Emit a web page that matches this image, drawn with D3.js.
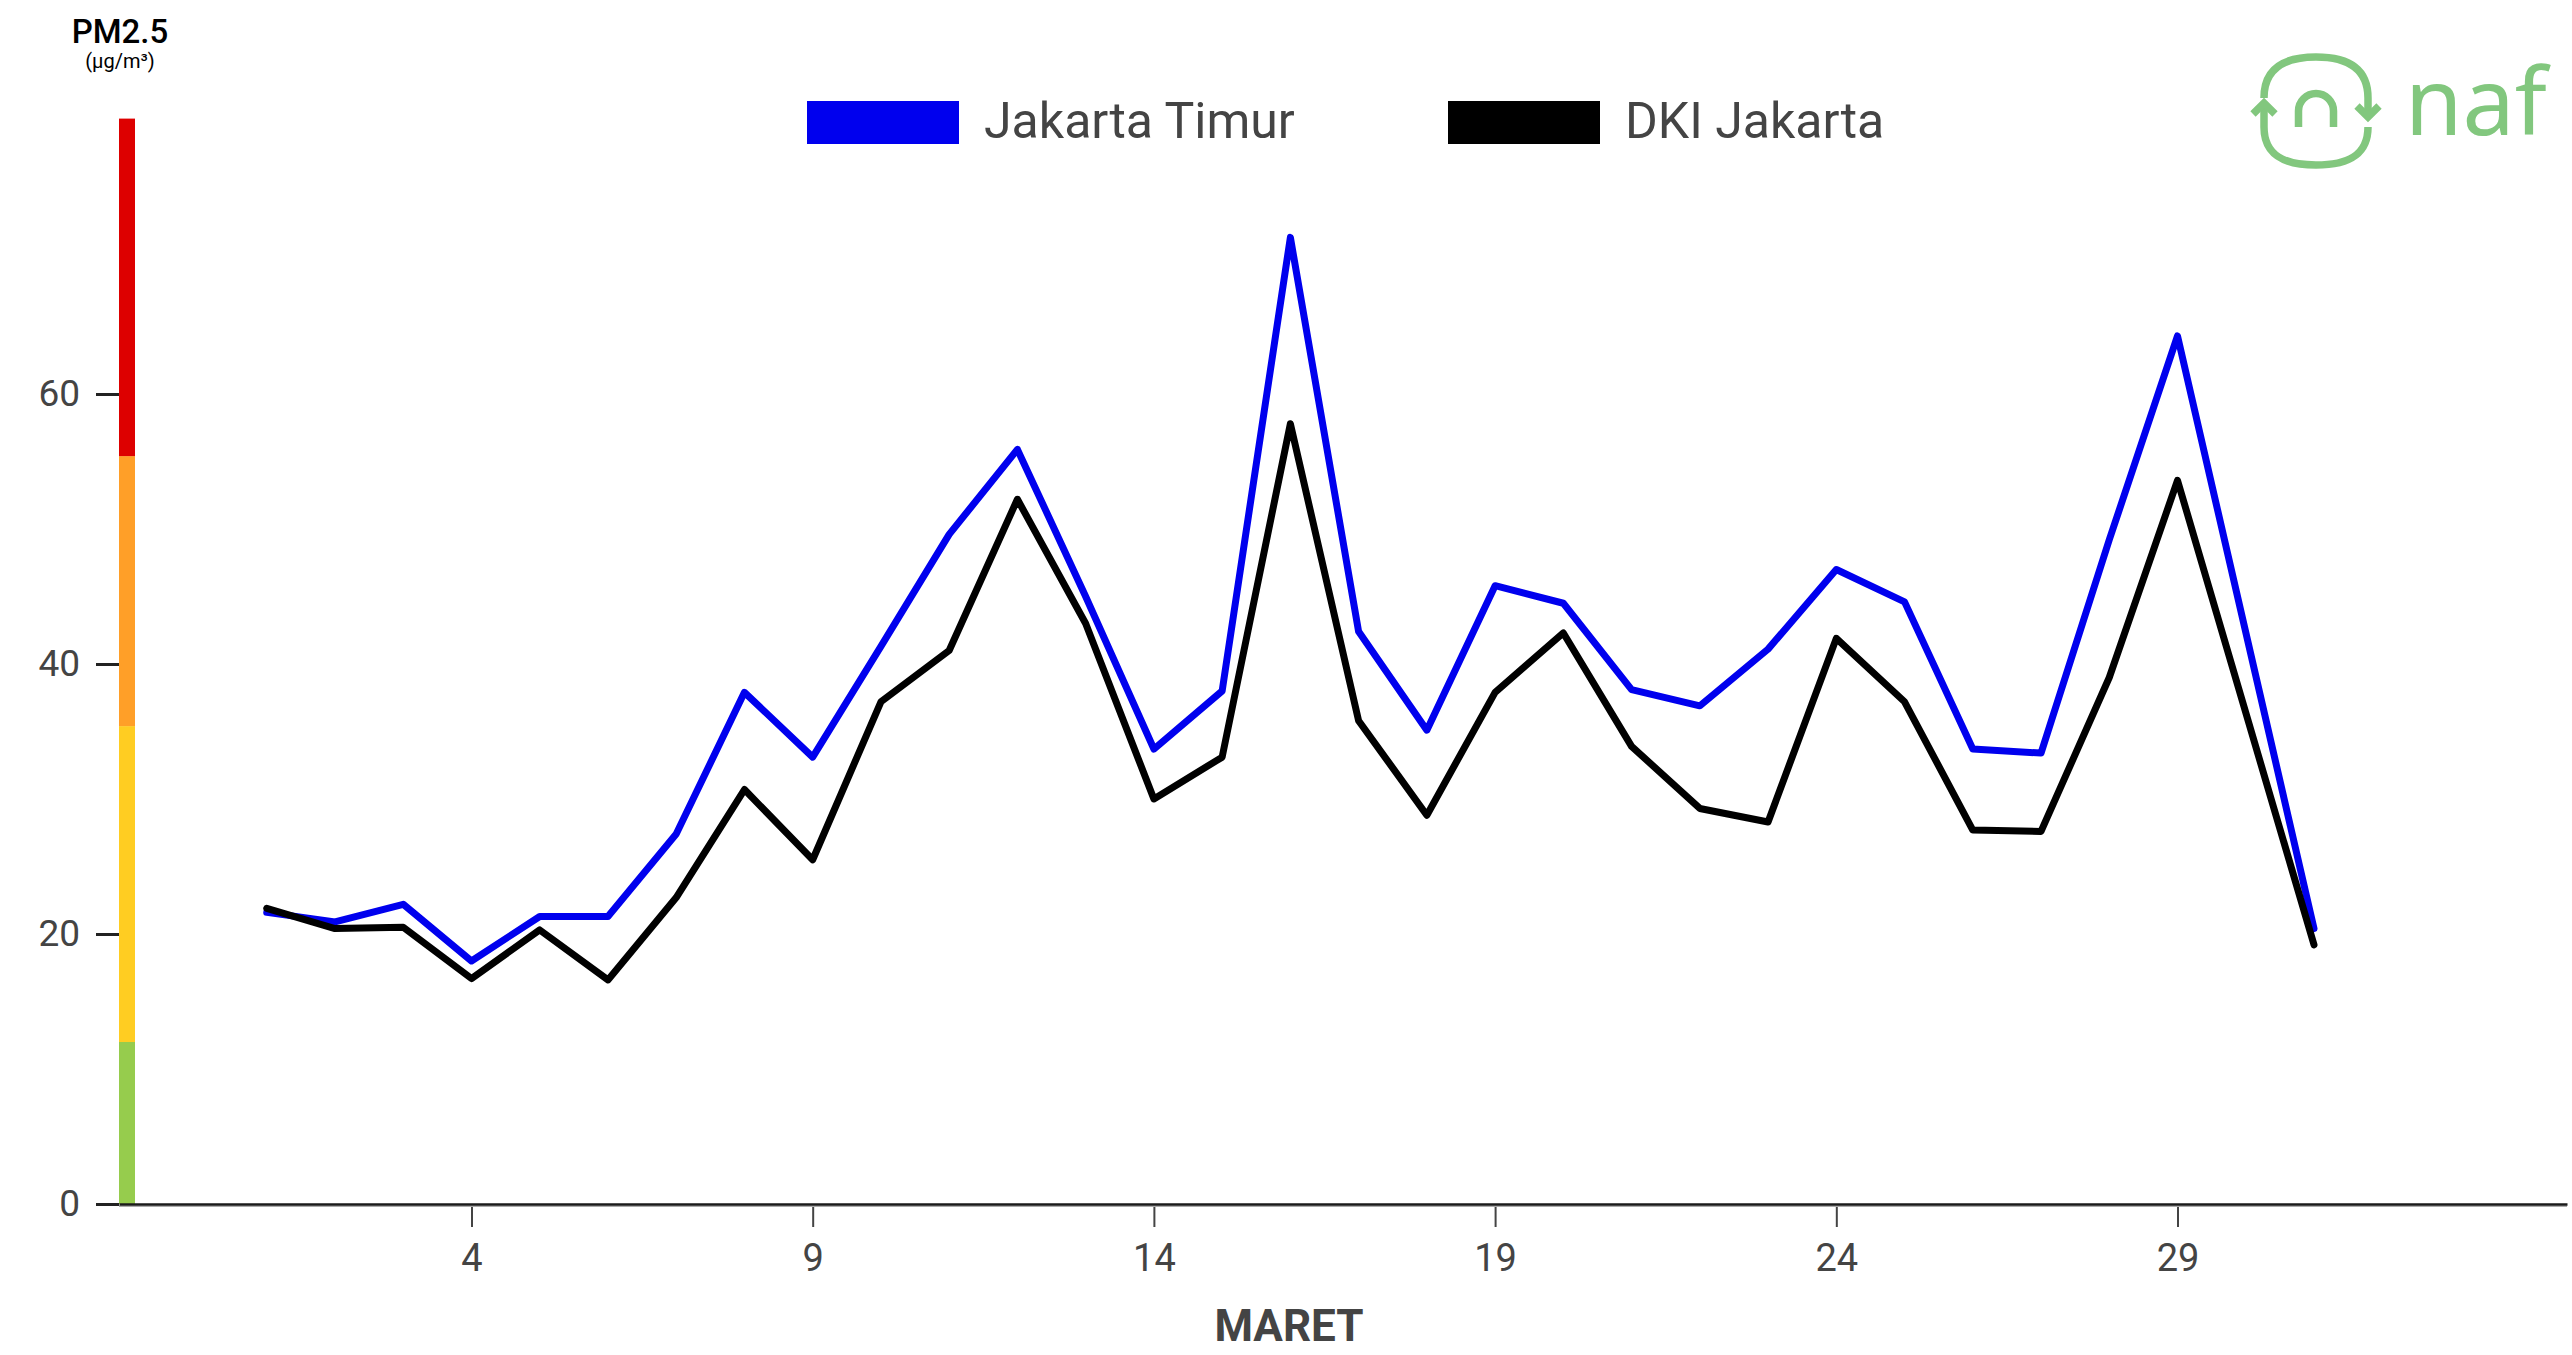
<!DOCTYPE html>
<html>
<head>
<meta charset="utf-8">
<script src="https://cdn.jsdelivr.net/npm/d3@7"></script>
<style>
  html, body { margin: 0; padding: 0; background: #fff; }
  svg { display: block; font-family: Roboto, "Noto Sans", sans-serif; }
</style>
</head>
<body>
<svg id="chart" width="2572" height="1355"></svg>
<script>
// ---- data ----
const days = [1,2,3,4,5,6,7,8,9,10,11,12,13,14,15,16,17,18,19,20,21,22,23,24,25,26,27,28,29,31];
const jakartaTimur = [21.6,20.9,22.2,18.0,21.3,21.3,27.4,37.9,33.1,41.3,49.6,55.9,45.0,33.7,38.0,71.6,42.4,35.1,45.8,44.5,38.1,36.9,41.1,47.0,44.6,33.7,33.4,49.2,64.3,20.4];
const dkiJakarta   = [21.9,20.4,20.5,16.7,20.3,16.6,22.7,30.7,25.5,37.2,41.0,52.2,43.0,30.0,33.1,57.8,35.8,28.8,37.9,42.3,33.9,29.3,28.3,41.9,37.2,27.7,27.6,39.0,53.6,19.2];
const seriesNames = ["Jakarta Timur", "DKI Jakarta"];
const seriesColors = ["#0000ee", "#000000"];
const yTicks = [0, 20, 40, 60];
const xTicks = [4, 9, 14, 19, 24, 29];
const xTitle = "MARET";
const bandBreaks = [0, 12, 35.4, 55.4, 80.4];
const bandColors = ["#96cc4d", "#ffcd22", "#ff9f28", "#dd0000"];

const svg = d3.select("#chart");

// ---- scales ----
const x = d3.scaleLinear().domain([1, 31]).range([266.75, 2314]);
const y = d3.scaleLinear().domain([0, 60]).range([1204, 394]);
const axisLeftX = 119, axisRightX = 2567;
const xAxisScale = x.copy().domain([x.invert(axisLeftX), x.invert(axisRightX)]).range([axisLeftX, axisRightX]);

// ---- title ----
svg.append("text").attr("x", 120).attr("y", 43).attr("text-anchor", "middle")
  .attr("font-size", 33).attr("font-weight", 500).attr("fill", "#000").text("PM2.5");
svg.append("text").attr("x", 120).attr("y", 68).attr("text-anchor", "middle")
  .attr("font-size", 20).attr("fill", "#000").text("(µg/m³)");

// ---- colour band bar ----
const bands = d3.range(bandColors.length).map(i => ({lo: bandBreaks[i], hi: bandBreaks[i+1], c: bandColors[i]}));
svg.append("g").selectAll("rect").data(bands).join("rect")
  .attr("x", 119).attr("width", 16)
  .attr("y", d => y(d.hi)).attr("height", d => y(d.lo) - y(d.hi))
  .attr("fill", d => d.c);

// ---- y axis ----
const yAxis = svg.append("g").attr("transform", "translate(119,0)")
  .call(d3.axisLeft(y).tickValues(yTicks).tickSize(23).tickPadding(16));
yAxis.select(".domain").remove();
yAxis.selectAll(".tick line").attr("stroke", "#222").attr("stroke-width", 3);
yAxis.selectAll(".tick text").attr("font-size", 37).attr("fill", "#444")
  .attr("font-family", "Roboto, sans-serif");

// ---- x axis ----
svg.append("line").attr("x1", axisLeftX).attr("x2", axisRightX)
  .attr("y1", 1206.3).attr("y2", 1206.3).attr("stroke", "#aaa").attr("stroke-width", 1.5);
const xAxis = svg.append("g").attr("transform", "translate(0,1204)")
  .call(d3.axisBottom(xAxisScale).tickValues(xTicks).tickSize(0).tickPadding(0));
xAxis.select(".domain").attr("stroke", "#1a1a1a").attr("stroke-width", 2.5);
xAxis.selectAll(".tick line").remove();
xAxis.selectAll(".tick").append("line")
  .attr("y1", 3).attr("y2", 23).attr("stroke", "#444").attr("stroke-width", 2);
xAxis.selectAll(".tick text").attr("font-size", 38).attr("fill", "#444")
  .attr("y", 55).attr("dy", "0.32em").attr("font-family", "Roboto, sans-serif");

svg.append("text").attr("x", 1289).attr("y", 1341).attr("text-anchor", "middle")
  .attr("font-size", 44).attr("font-weight", 700).attr("fill", "#444").text(xTitle);

// ---- lines ----
const seriesData = [jakartaTimur, dkiJakarta];
const line = d3.line().x(d => x(d[0])).y(d => y(d[1]));
seriesData.forEach((vals, i) => {
  svg.append("path")
    .datum(days.map((d, j) => [d, vals[j]]))
    .attr("fill", "none").attr("stroke", seriesColors[i])
    .attr("stroke-width", 7).attr("stroke-linejoin", "round").attr("stroke-linecap", "round")
    .attr("d", line);
});

// ---- legend ----
const legendX = [807, 1448];
const lg = svg.append("g");
seriesNames.forEach((name, i) => {
  lg.append("rect").attr("x", legendX[i]).attr("y", 101).attr("width", 152).attr("height", 43)
    .attr("fill", seriesColors[i]);
  lg.append("text").attr("x", legendX[i] + 177).attr("y", 138)
    .attr("font-size", 50).attr("fill", "#444").text(name);
});

// ---- logo ----
const green = "#82c77e";
const logo = svg.append("g").attr("fill", "none").attr("stroke", green)
  .attr("stroke-width", 7.5).attr("stroke-linecap", "butt").attr("stroke-linejoin", "miter");
logo.append("path").attr("d", "M2264,98 C2264,68 2285,57 2316,57 C2347,57 2368,68 2368,98 L2368,117");
logo.append("path").attr("d", "M2357,106 L2368,117 L2379,106");
logo.append("path").attr("d", "M2368,127 C2368,156 2347,165 2316,165 C2285,165 2264,156 2264,127 L2264,104");
logo.append("path").attr("d", "M2253,114 L2264,103 L2275,114");
logo.append("path").attr("d", "M2298.5,127 V111 A17.5,17.5 0 0 1 2333.5,111 V127");
svg.append("text").attr("x", 2405).attr("y", 135).attr("font-family", "'Noto Sans', sans-serif")
  .attr("font-size", 93).attr("fill", green).text("naf");
</script>
</body>
</html>
